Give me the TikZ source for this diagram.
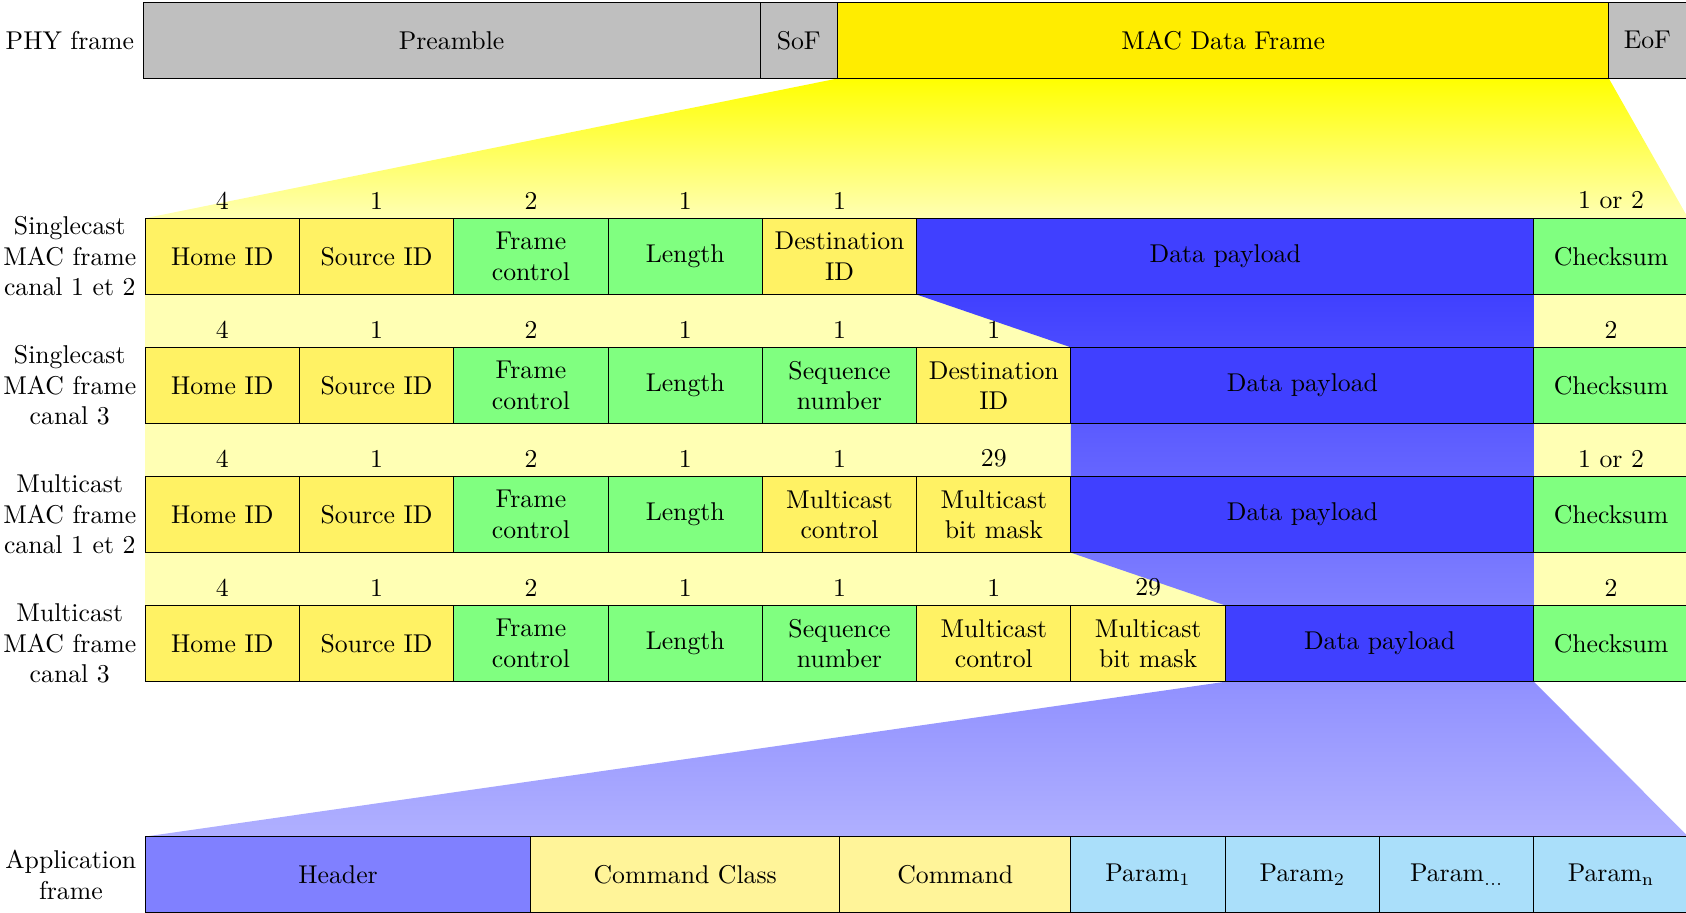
\documentclass[tikz,border=0pt]{standalone}
\usetikzlibrary{backgrounds}
\definecolor{macyellow}{RGB}{255,237,0}
\definecolor{fieldyellow}{RGB}{255,242,100}
\definecolor{fieldgreen}{RGB}{128,255,128}
\definecolor{payblue}{RGB}{64,64,255}
\definecolor{hdrblue}{RGB}{128,128,255}
\definecolor{cmdyellow}{RGB}{255,244,153}
\definecolor{parblue}{RGB}{170,223,250}
\definecolor{phygray}{RGB}{191,191,191}
\definecolor{lightyel}{RGB}{255,255,180}
\definecolor{lowblue}{RGB}{176,176,255}
\tikzset{
  fld/.style={draw, anchor=south west, outer sep=0pt, inner sep=2pt,
    minimum height=30.12pt, minimum width=#1*60.88pt, align=center},
  fld/.default=1,
  yf/.style={fld=#1, fill=fieldyellow}, yf/.default=1,
  gf/.style={fld=#1, fill=fieldgreen}, gf/.default=1,
  bf/.style={fld=#1, fill=payblue}, bf/.default=1,
  bytes/.style={anchor=south, inner sep=3.33pt},
  rowlabel/.style={anchor=east, align=center, inner sep=3.33pt}
}
\begin{document}
\fontsize{10.15}{12}\selectfont
\begin{tikzpicture}[x=60.88pt, y=60.88pt]
\useasboundingbox (-0.941,0) rectangle (9.986,-5.917);

% PHY frame
\node[fld=4, fill=phygray] (pre) at (-0.014,-0.509) {Preamble};
\node[fld=0.5, fill=phygray] (sof) at (3.986,-0.509) {SoF};
\node[fld=5, fill=macyellow] (mac) at (4.486,-0.509) {MAC Data Frame};
\node[fld=0.5, fill=phygray] (eof) at (9.486,-0.509) {EoF};
\node[rowlabel] (lphy) at (pre.west) {PHY frame};

% Row 1: Singlecast canal 1 et 2
\node[yf] (ah) at (0,-1.909) {Home ID};
\node[yf] (as) at (1,-1.909) {Source ID};
\node[gf] (af) at (2,-1.909) {Frame\\control};
\node[gf] (al) at (3,-1.909) {Length};
\node[yf] (ad) at (4,-1.909) {Destination\\ID};
\node[bf=4] (ap) at (5,-1.909) {Data payload};
\node[gf] (ac) at (9,-1.909) {Checksum};
\node[bytes] (ahn) at (ah.north) {4};
\node[bytes] (asn) at (as.north) {1};
\node[bytes] (afn) at (af.north) {2};
\node[bytes] (aln) at (al.north) {1};
\node[bytes] (adn) at (ad.north) {1};
\node[bytes] (acn) at (ac.north) {1 or 2};
\node[rowlabel] (la) at (ah.west) {Singlecast\\MAC frame\\canal 1 et 2};

% Row 2: Singlecast canal 3
\node[yf] (bh) at (0,-2.746) {Home ID};
\node[yf] (bs) at (1,-2.746) {Source ID};
\node[gf] (bfc) at (2,-2.746) {Frame\\control};
\node[gf] (bl) at (3,-2.746) {Length};
\node[gf] (bq) at (4,-2.746) {Sequence\\number};
\node[yf] (bd) at (5,-2.746) {Destination\\ID};
\node[bf=3] (bp) at (6,-2.746) {Data payload};
\node[gf] (bc) at (9,-2.746) {Checksum};
\node[bytes] (bhn) at (bh.north) {4};
\node[bytes] (bsn) at (bs.north) {1};
\node[bytes] (bfn) at (bfc.north) {2};
\node[bytes] (bln) at (bl.north) {1};
\node[bytes] (bqn) at (bq.north) {1};
\node[bytes] (bdn) at (bd.north) {1};
\node[bytes] (bcn) at (bc.north) {2};
\node[rowlabel] (lb) at (bh.west) {Singlecast\\MAC frame\\canal 3};

% Row 3: Multicast canal 1 et 2
\node[yf] (ch) at (0,-3.582) {Home ID};
\node[yf] (cs) at (1,-3.582) {Source ID};
\node[gf] (cf) at (2,-3.582) {Frame\\control};
\node[gf] (cl) at (3,-3.582) {Length};
\node[yf] (cm) at (4,-3.582) {Multicast\\control};
\node[yf] (ck) at (5,-3.582) {Multicast\\bit mask};
\node[bf=3] (cp) at (6,-3.582) {Data payload};
\node[gf] (cc) at (9,-3.582) {Checksum};
\node[bytes] (chn) at (ch.north) {4};
\node[bytes] (csn) at (cs.north) {1};
\node[bytes] (cfn) at (cf.north) {2};
\node[bytes] (cln) at (cl.north) {1};
\node[bytes] (cmn) at (cm.north) {1};
\node[bytes] (ckn) at (ck.north) {29};
\node[bytes] (ccn) at (cc.north) {1 or 2};
\node[rowlabel] (lc) at (ch.west) {Multicast\\MAC frame\\canal 1 et 2};

% Row 4: Multicast canal 3
\node[yf] (dh) at (0,-4.4185) {Home ID};
\node[yf] (ds) at (1,-4.4185) {Source ID};
\node[gf] (df) at (2,-4.4185) {Frame\\control};
\node[gf] (dl) at (3,-4.4185) {Length};
\node[gf] (dq) at (4,-4.4185) {Sequence\\number};
\node[yf] (dm) at (5,-4.4185) {Multicast\\control};
\node[yf] (dk) at (6,-4.4185) {Multicast\\bit mask};
\node[bf=2] (dp) at (7,-4.4185) {Data payload};
\node[gf] (dc) at (9,-4.4185) {Checksum};
\node[bytes] (dhn) at (dh.north) {4};
\node[bytes] (dsn) at (ds.north) {1};
\node[bytes] (dfn) at (df.north) {2};
\node[bytes] (dln) at (dl.north) {1};
\node[bytes] (dqn) at (dq.north) {1};
\node[bytes] (dmn) at (dm.north) {1};
\node[bytes] (dkn) at (dk.north) {29};
\node[bytes] (dcn) at (dc.north) {2};
\node[rowlabel] (ld) at (dh.west) {Multicast\\MAC frame\\canal 3};

% Application frame
\node[fld=2.5, fill=hdrblue] (hdr) at (0,-5.9166) {Header};
\node[fld=2, fill=cmdyellow] (ccl) at (2.5,-5.9166) {Command Class};
\node[fld=1.5, fill=cmdyellow] (cmd) at (4.5,-5.9166) {Command};
\node[fld, fill=parblue] (p1) at (6,-5.9166) {Param$_1$};
\node[fld, fill=parblue] (p2) at (7,-5.9166) {Param$_2$};
\node[fld, fill=parblue] (pd) at (8,-5.9166) {Param$_{\ldots}$};
\node[fld, fill=parblue] (pn) at (9,-5.9166) {Param$_\mathrm{n}$};
\node[rowlabel] (le) at (hdr.west) {Application\\frame};

% Funnels
\begin{scope}[on background layer]
  \shade[top color=yellow, bottom color=lightyel]
    (mac.south west) -- (mac.south east) -- (ac.north east) -- (ah.north west) -- cycle;
  \fill[lightyel] (ah.north west) rectangle (dc.north east);
  \shade[top color=payblue, bottom color=lowblue]
    (ap.south west) -- (bp.north west) -- (cp.south west) -- (dp.north west)
    -- (dp.south west) -- (hdr.north west) -- (pn.north east)
    -- (dp.south east) -- (ap.south east) -- cycle;
\end{scope}
\end{tikzpicture}
\end{document}
